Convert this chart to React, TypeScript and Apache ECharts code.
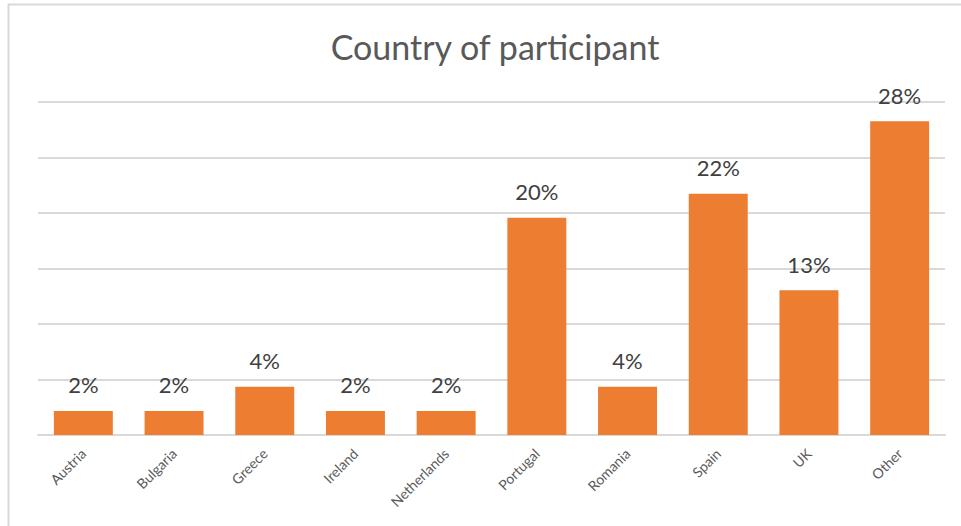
import React, { useEffect, useRef } from "react";
import * as echarts from "echarts";

const categories = ["Austria", "Bulgaria", "Greece", "Ireland", "Netherlands", "Portugal", "Romania", "Spain", "UK", "Other"];
const percentValues = [2.17, 2.17, 4.35, 2.17, 2.17, 19.57, 4.35, 21.74, 13.04, 28.26];
const titleText = "Country of participant";

export default function App() {
  const ref = useRef<HTMLDivElement>(null);
  useEffect(() => {
    if (!ref.current) return;
    const chart = echarts.init(ref.current, null, { renderer: "svg" });
    chart.setOption({
      animation: false,
      backgroundColor: "#ffffff",
      title: {
        text: titleText,
        left: 490,
        textAlign: "center",
        top: 24,
        textStyle: { fontFamily: "Lato", fontSize: 34, fontWeight: "normal", color: "#595959" },
      },
      graphic: [
        {
          type: "rect",
          shape: { x: 8.5, y: 4.5, width: 970, height: 540 },
          style: { fill: "none", stroke: "#d9d9d9", lineWidth: 2 },
          silent: true,
        },
      ],
      grid: { left: 38, right: 16, top: 102, bottom: 91, containLabel: false },
      xAxis: {
        type: "category",
        data: categories,
        axisLine: { show: true, lineStyle: { color: "#d9d9d9", width: 2 } },
        axisTick: { show: false },
        axisLabel: {
          rotate: 45,
          interval: 0,
          margin: 16,
          fontFamily: "Lato",
          fontSize: 14,
          color: "#595959",
        },
      },
      yAxis: {
        type: "value",
        min: 0,
        max: 30,
        interval: 5,
        axisLabel: { show: false },
        axisLine: { show: false },
        axisTick: { show: false },
        splitLine: { lineStyle: { color: "#d9d9d9", width: 2 } },
      },
      series: [
        {
          type: "bar",
          data: percentValues,
          barWidth: "65%",
          itemStyle: { color: "#ED7D31" },
          label: {
            show: true,
            position: "top",
            distance: 15,
            formatter: (p: any) => Math.round(p.value) + "%",
            fontFamily: "Lato",
            fontSize: 22,
            color: "#404040",
          },
        },
      ],
    });
    return () => chart.dispose();
  }, []);
  return (
    <div
      ref={ref}
      style={{ position: "absolute", left: 0, top: 0, width: 961, height: 526 }}
    />
  );
}
